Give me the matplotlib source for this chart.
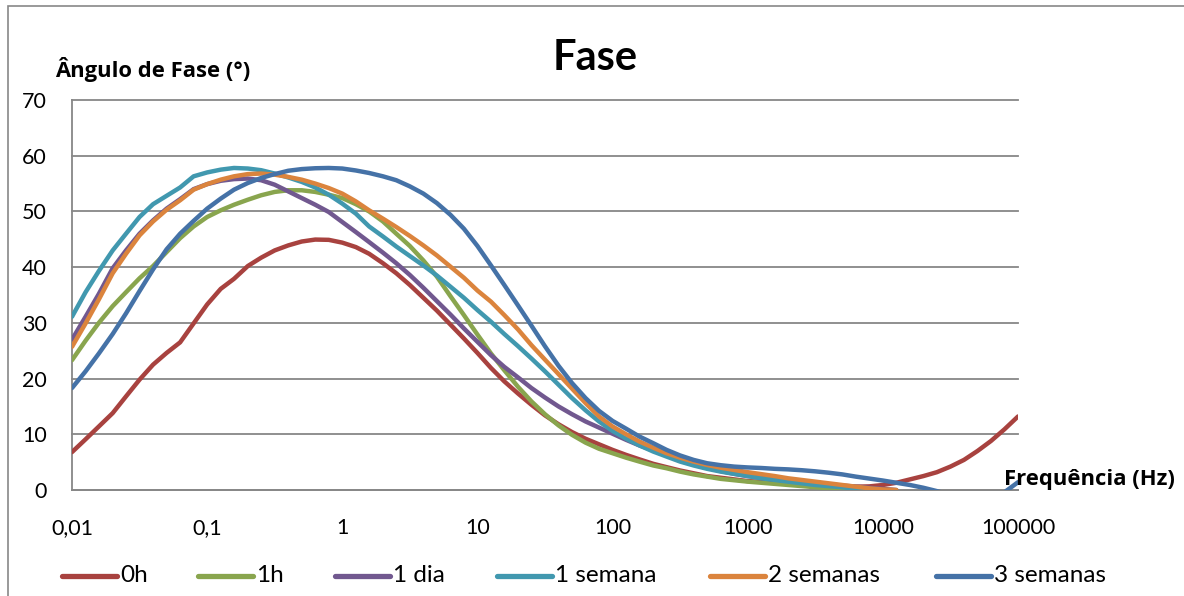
import numpy as np
import matplotlib
matplotlib.use("Agg")
import matplotlib.pyplot as plt
from matplotlib.lines import Line2D
from matplotlib.patches import Rectangle
from matplotlib.ticker import FixedLocator, FixedFormatter, NullLocator

plt.rcParams["font.family"] = ["Lato", "DejaVu Sans"]

nan = np.nan

# Frequency sweep (Hz), ten points per decade
freq_hz = [0.01, 0.0126, 0.0158, 0.02, 0.0251, 0.0316, 0.0398, 0.0501, 0.0631, 0.0794,
           0.1, 0.126, 0.158, 0.2, 0.251, 0.316, 0.398, 0.501, 0.631, 0.794,
           1, 1.26, 1.58, 2.0, 2.51, 3.16, 3.98, 5.01, 6.31, 7.94,
           10, 12.6, 15.8, 20, 25.1, 31.6, 39.8, 50.1, 63.1, 79.4,
           100, 126, 158, 200, 251, 316, 398, 501, 631, 794,
           1000, 1259, 1585, 1995, 2512, 3162, 3981, 5012, 6310, 7943,
           10000, 12589, 15849, 19953, 25119, 31623, 39811, 50119, 63096, 79433,
           100000]

# Phase angle (degrees) for each immersion time
phase_0h = [6.8, 9.1, 11.4, 13.8, 16.8, 19.8, 22.5, 24.6, 26.5, 29.9,
            33.3, 36.1, 37.9, 40.2, 41.7, 43.0, 43.9, 44.6, 44.95, 44.9,
            44.4, 43.6, 42.4, 40.7, 38.9, 36.8, 34.5, 32.2, 29.7, 27.2,
            24.6, 21.9, 19.5, 17.3, 15.3, 13.4, 11.8, 10.4, 9.2, 8.2,
            7.2, 6.3, 5.5, 4.7, 4.1, 3.5, 3.0, 2.5, 2.2, 1.9,
            1.6, 1.45, 1.3, 1.15, 1.0, 0.9, 0.8, 0.7, 0.6, 0.65,
            0.9, 1.3, 1.9, 2.5, 3.2, 4.2, 5.4, 7.0, 8.8, 10.9,
            13.2]
phase_1h = [23.3, 26.8, 30.0, 33.0, 35.5, 38.0, 40.2, 42.7, 45.2, 47.3,
            49.0, 50.2, 51.2, 52.1, 52.9, 53.5, 53.8, 53.8, 53.5, 53.0,
            52.4, 51.3, 50.0, 48.2, 46.0, 43.8, 41.2, 38.3, 34.8, 31.4,
            27.9, 24.5, 21.5, 18.5, 15.9, 13.6, 11.6, 9.9, 8.5, 7.4,
            6.6, 5.8, 5.1, 4.4, 3.9, 3.3, 2.8, 2.4, 2.0, 1.75,
            1.5, 1.3, 1.1, 0.9, 0.7, 0.5, 0.3, 0.1, -0.1, nan,
            nan, nan, nan, nan, nan, nan, nan, nan, nan, nan,
            nan]
phase_1dia = [27.0, 31.1, 35.2, 39.8, 43.0, 46.0, 48.4, 50.5, 52.2, 54.0,
              54.9, 55.5, 55.8, 55.9, 55.6, 54.8, 53.6, 52.4, 51.2, 49.9,
              48.1, 46.3, 44.5, 42.6, 40.7, 38.6, 36.3, 33.9, 31.5, 29.0,
              26.6, 24.2, 22.1, 20.2, 18.3, 16.6, 15.0, 13.6, 12.3, 11.2,
              10.1, 9.0, 8.0, 7.1, 6.2, 5.4, 4.6, 4.0, 3.4, 2.9,
              2.5, 2.2, 1.9, 1.65, 1.4, 1.2, 1.0, 0.8, 0.6, 0.4,
              0.2, 0.0, nan, nan, nan, nan, nan, nan, nan, nan,
              nan]
phase_1sem = [31.1, 35.5, 39.3, 43.0, 46.0, 49.0, 51.3, 52.8, 54.3, 56.3,
              57.0, 57.5, 57.8, 57.7, 57.4, 56.8, 56.1, 55.3, 54.3, 53.0,
              51.4, 49.6, 47.3, 45.5, 43.7, 42.0, 40.3, 38.5, 36.5, 34.5,
              32.3, 30.2, 28.0, 25.8, 23.6, 21.3, 18.9, 16.5, 14.3, 12.3,
              10.6, 9.2, 8.0, 6.9, 6.0, 5.1, 4.4, 3.8, 3.3, 2.9,
              2.5, 2.1, 1.8, 1.5, 1.2, 0.9, 0.7, 0.5, 0.2, 0.0,
              nan, nan, nan, nan, nan, nan, nan, nan, nan, nan,
              nan]
phase_2sem = [25.7, 29.9, 34.2, 38.9, 42.4, 45.7, 48.2, 50.3, 52.0, 53.9,
              54.9, 55.7, 56.3, 56.7, 56.8, 56.6, 56.2, 55.7, 55.0, 54.2,
              53.2, 51.8, 50.2, 48.7, 47.2, 45.6, 43.9, 42.1, 40.1, 38.1,
              35.8, 33.8, 31.4, 28.8, 26.0, 23.4, 20.8, 18.2, 15.6, 13.2,
              11.4, 10.0, 8.7, 7.6, 6.6, 5.8, 5.1, 4.5, 4.0, 3.6,
              3.2, 2.85, 2.5, 2.1, 1.8, 1.5, 1.2, 0.9, 0.6, 0.3,
              0.1, 0.0, nan, nan, nan, nan, nan, nan, nan, nan,
              nan]
phase_3sem = [18.3, 21.3, 24.5, 28.0, 31.7, 35.7, 39.6, 43.2, 46.0, 48.3,
              50.5, 52.3, 53.9, 55.1, 56.0, 56.7, 57.3, 57.6, 57.75, 57.8,
              57.7, 57.35, 56.9, 56.3, 55.6, 54.5, 53.2, 51.5, 49.4, 46.9,
              43.8, 40.3, 36.8, 33.1, 29.5, 25.8, 22.3, 19.2, 16.5, 14.2,
              12.4, 11.0, 9.6, 8.4, 7.2, 6.2, 5.4, 4.8, 4.45, 4.2,
              4.05, 3.95, 3.8, 3.7, 3.55, 3.35, 3.1, 2.8, 2.4, 2.05,
              1.7, 1.3, 0.9, 0.4, -0.2, -0.9, -1.6, -2.0, -1.6, -0.4,
              1.4]

series_labels = ["0h", "1h", "1 dia", "1 semana", "2 semanas", "3 semanas"]
series_values = [phase_0h, phase_1h, phase_1dia, phase_1sem, phase_2sem, phase_3sem]
series_colors = ["#A8423F", "#89A54E", "#71588F", "#4198AF", "#DB843D", "#4572A7"]

x_ticks = [0.01, 0.1, 1, 10, 100, 1000, 10000, 100000]
x_tick_labels = ["0,01", "0,1", "1", "10", "100", "1000", "10000", "100000"]
y_ticks = [0, 10, 20, 30, 40, 50, 60, 70]

W, H = 1184, 596
fig = plt.figure(figsize=(W / 100, H / 100), dpi=100)
ax = fig.add_axes([72 / W, 1 - 490 / H, (1018 - 72) / W, (490 - 100) / H])

grid_color = "#878787"

for vals, lab, col in zip(series_values, series_labels, series_colors):
    ax.plot(freq_hz, vals, color=col, lw=3.2, solid_capstyle="round",
            solid_joinstyle="round", label=lab, zorder=3)

ax.set_xscale("log")
ax.set_xlim(0.01, 100000)
ax.set_ylim(0, 70)
ax.xaxis.set_major_locator(FixedLocator(x_ticks))
ax.xaxis.set_major_formatter(FixedFormatter(x_tick_labels))
ax.xaxis.set_minor_locator(NullLocator())
ax.set_yticks(y_ticks)
ax.set_yticklabels([str(v) for v in y_ticks])

ax.tick_params(axis="both", length=0, labelsize=15.5, colors="black")
ax.tick_params(axis="x", pad=20)
ax.tick_params(axis="y", pad=18)

ax.yaxis.grid(True, color=grid_color, lw=1.3)
for gl in ax.get_ygridlines():
    gl.set_clip_on(False)
ax.set_axisbelow(True)

for side in ("top", "right"):
    ax.spines[side].set_visible(False)
for side in ("left", "bottom"):
    ax.spines[side].set_color(grid_color)
    ax.spines[side].set_linewidth(1.3)

# Chart frame
fig.add_artist(Rectangle((7.5 / W, -0.1), 1.2, 1 - 6 / H + 0.1,
                         transform=fig.transFigure, fill=False,
                         edgecolor=grid_color, lw=1.2))

bold_font = ["Open Sans", "DejaVu Sans"]
fig.text(595 / W, 1 - 58 / H, "Fase", fontsize=30, fontweight="bold",
         ha="center", va="center")
fig.text(55 / W, 1 - 70 / H, "Ângulo de Fase (°)", fontsize=15.8, fontweight="bold",
         family=bold_font, ha="left", va="center")
fig.text(1004 / W, 1 - 480 / H, "Frequência (Hz)", fontsize=15.8, fontweight="bold",
         family=bold_font, ha="left", va="center")

# Legend row along the bottom
legend_x = [62, 198, 335, 497, 710, 936]
legend_y = 1 - 576 / H
for x0, lab, col in zip(legend_x, series_labels, series_colors):
    fig.add_artist(Line2D([x0 / W, (x0 + 55) / W], [legend_y, legend_y],
                          transform=fig.transFigure, color=col, lw=3.8,
                          solid_capstyle="round"))
    fig.text((x0 + 58) / W, legend_y, lab, fontsize=17.5, ha="left", va="center")

fig.savefig("out.png", dpi=100)
